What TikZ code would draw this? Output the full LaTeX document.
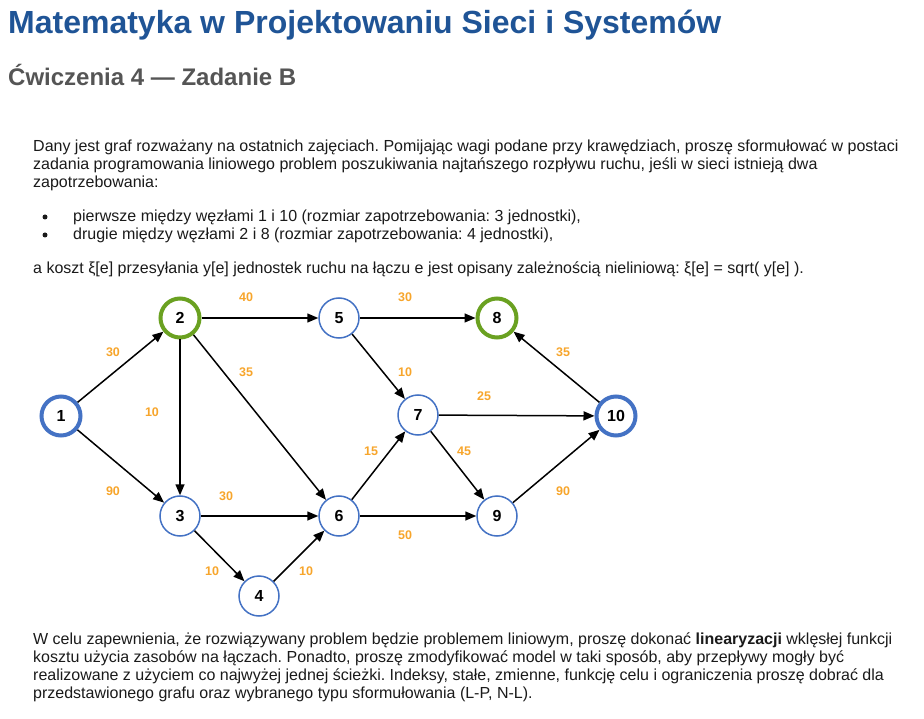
\documentclass[tikz,border=0pt]{standalone}
\usepackage{fontspec}
\setmainfont{Liberation Sans}
\usetikzlibrary{arrows.meta}
\definecolor{nodeblue}{HTML}{4472C4}
\definecolor{nodegreen}{HTML}{6AA121}
\definecolor{weight}{HTML}{F7A52B}
\definecolor{titleblue}{HTML}{1F5496}
\definecolor{subgray}{HTML}{555555}
\definecolor{bodytext}{HTML}{1A1A1A}
\frenchspacing
\begin{document}
\begin{tikzpicture}[x=1pt,y=-1pt,
  vtx/.style={circle,draw=nodeblue,line width=1.5pt,minimum size=40pt,inner sep=0pt,
    font=\fontsize{16}{16}\selectfont\bfseries,fill=white},
  endpt/.style={vtx,line width=4pt,minimum size=39pt},
  demand/.style={vtx,draw=nodegreen,line width=4pt,minimum size=39pt},
  link/.style={draw=black,line width=1.5pt,-{Triangle[length=11pt,width=9pt]}},
  wt/.style={text=weight,font=\fontsize{12.5}{13}\selectfont\bfseries,inner sep=0pt},
  line/.style={anchor=base west,inner sep=0pt,text=bodytext,font=\fontsize{16}{18}\selectfont},
  dot/.style={circle,fill=bodytext,inner sep=0pt,minimum size=5pt}]
\useasboundingbox (0,0) rectangle (924,719);

% headings
\node[anchor=base west,inner sep=0pt,text=titleblue,font=\fontsize{32}{36}\selectfont\bfseries] (title) at (8,34) {Matematyka w Projektowaniu Sieci i Systemów};
\node[anchor=base west,inner sep=0pt,text=subgray,font=\fontsize{24}{28}\selectfont\bfseries] (subtitle) at (8,86) {Ćwiczenia 4 — Zadanie B};

% task description
\node[line] (p1) at (33,152) {Dany jest graf rozważany na ostatnich zajęciach. Pomijając wagi podane przy krawędziach, proszę sformułować w postaci};
\node[line] (p2) at (33,170) {zadania programowania liniowego problem poszukiwania najtańszego rozpływu ruchu, jeśli w sieci istnieją dwa};
\node[line] (p3) at (33,188) {zapotrzebowania:};
\node[dot] (b1) at (45,217) {};
\node[line] (l1) at (73,222) {pierwsze między węzłami 1 i 10 (rozmiar zapotrzebowania: 3 jednostki),};
\node[dot] (b2) at (45,235) {};
\node[line] (l2) at (73,240) {drugie między węzłami 2 i 8 (rozmiar zapotrzebowania: 4 jednostki),};
\node[line] (p4) at (33,274) {a koszt ξ[e] przesyłania y[e] jednostek ruchu na łączu e jest opisany zależnością nieliniową: ξ[e] = sqrt( y[e] ).};

% graph vertices
\node[endpt]  (n1)  at (61,416)  {1};
\node[demand] (n2)  at (180,318) {2};
\node[vtx]    (n3)  at (180,516) {3};
\node[vtx]    (n4)  at (259,596) {4};
\node[vtx]    (n5)  at (339,318) {5};
\node[vtx]    (n6)  at (339,516) {6};
\node[vtx]    (n7)  at (418,415) {7};
\node[demand] (n8)  at (497,318) {8};
\node[vtx]    (n9)  at (497,516) {9};
\node[endpt]  (n10) at (616,416) {10};

% directed links
\draw[link] (n1) -- (n2);
\draw[link] (n1) -- (n3);
\draw[link] (n2) -- (n5);
\draw[link] (n2) -- (n3);
\draw[link] (n2) -- (n6);
\draw[link] (n5) -- (n8);
\draw[link] (n5) -- (n7);
\draw[link] (n3) -- (n6);
\draw[link] (n3) -- (n4);
\draw[link] (n4) -- (n6);
\draw[link] (n6) -- (n7);
\draw[link] (n6) -- (n9);
\draw[link] (n7) -- (n10);
\draw[link] (n7) -- (n9);
\draw[link] (n9) -- (n10);
\draw[link] (n10) -- (n8);

% link weights
\node[wt] (w12)  at (113,352) {30};
\node[wt] (w13)  at (113,491) {90};
\node[wt] (w25)  at (246,297) {40};
\node[wt] (w23)  at (152,412) {10};
\node[wt] (w26)  at (246,372) {35};
\node[wt] (w58)  at (405,297) {30};
\node[wt] (w57)  at (405,372) {10};
\node[wt] (w36)  at (226,496) {30};
\node[wt] (w34)  at (212,571) {10};
\node[wt] (w46)  at (306,571) {10};
\node[wt] (w67)  at (371,451) {15};
\node[wt] (w69)  at (405,535) {50};
\node[wt] (w710) at (484,396) {25};
\node[wt] (w79)  at (464,451) {45};
\node[wt] (w910) at (563,491) {90};
\node[wt] (w108) at (563,352) {35};

% closing remarks
\node[line] (q1) at (33,644) {W celu zapewnienia, że rozwiązywany problem będzie problemem liniowym, proszę dokonać \textbf{linearyzacji} wklęsłej funkcji};
\node[line] (q2) at (33,662) {kosztu użycia zasobów na łączach. Ponadto, proszę zmodyfikować model w taki sposób, aby przepływy mogły być};
\node[line] (q3) at (33,680) {realizowane z użyciem co najwyżej jednej ścieżki. Indeksy, stałe, zmienne, funkcję celu i ograniczenia proszę dobrać dla};
\node[line] (q4) at (33,698) {przedstawionego grafu oraz wybranego typu sformułowania (L-P, N-L).};
\end{tikzpicture}
\end{document}
